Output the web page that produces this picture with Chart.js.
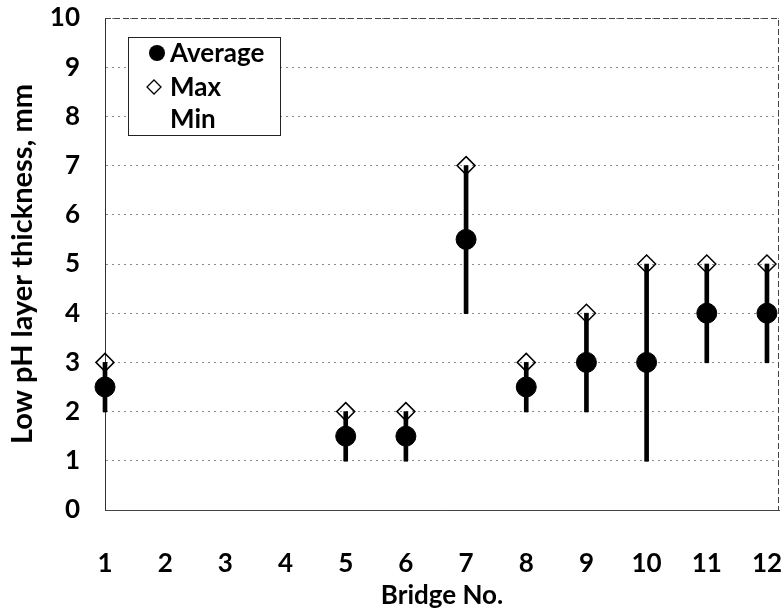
<!DOCTYPE html>
<html>
<head>
<meta charset="utf-8">
<script src="https://cdn.jsdelivr.net/npm/chart.js@4.4.1/dist/chart.umd.min.js"></script>
<style>
html,body{margin:0;padding:0;background:#fff;}
#wrap{width:783px;height:614px;}
</style>
</head>
<body>
<div id="wrap"><canvas id="c" width="783" height="614"></canvas></div>
<script>
const bridges = [1, 5, 6, 7, 8, 9, 10, 11, 12];
const avgVals = [2.5, 1.5, 1.5, 5.5, 2.5, 3, 3, 4, 4];
const maxVals = [3, 2, 2, 7, 3, 4, 5, 5, 5];
const minVals = [2, 1, 1, 4, 2, 2, 1, 3, 3];
const xTicks = [1, 2, 3, 4, 5, 6, 7, 8, 9, 10, 11, 12];
const yTicks = [0, 1, 2, 3, 4, 5, 6, 7, 8, 9, 10];
const legendLabels = ['Average', 'Max', 'Min'];

const FONT = 'Lato';
const FSIZE = 26;
const pts = (ys) => bridges.map((b, i) => ({x: b, y: ys[i]}));

const boxPlugin = {
  id: 'boxPlugin',
  beforeDatasetsDraw(chart) {
    const {ctx, chartArea: a} = chart;
    ctx.save();
    ctx.strokeStyle = '#444';
    ctx.lineWidth = 1;
    ctx.setLineDash([6, 3]);
    ctx.beginPath();
    ctx.moveTo(a.left, a.top + 0.5);
    ctx.lineTo(a.right - 0.5, a.top + 0.5);
    ctx.lineTo(a.right - 0.5, a.bottom);
    ctx.stroke();
    ctx.restore();
  },
  afterDraw(chart) {
    const {ctx, chartArea: a} = chart;
    const bx = a.left + 23, by = a.top + 19, bw = 152, bh = 98;
    ctx.save();
    ctx.fillStyle = '#fff';
    ctx.fillRect(bx, by, bw, bh);
    ctx.strokeStyle = '#222';
    ctx.lineWidth = 1;
    ctx.strokeRect(bx + 0.5, by + 0.5, bw, bh);
    ctx.font = 'bold ' + FSIZE + 'px ' + FONT;
    ctx.fillStyle = '#000';
    ctx.textBaseline = 'middle';
    const rowY = [by + 16, by + 50, by + 82];
    const mx = bx + 29;
    ctx.beginPath();
    ctx.arc(mx, rowY[0], 8, 0, Math.PI * 2);
    ctx.fill();
    ctx.beginPath();
    ctx.moveTo(mx - 3, rowY[1] - 7);
    ctx.lineTo(mx + 4, rowY[1]);
    ctx.lineTo(mx - 3, rowY[1] + 7);
    ctx.lineTo(mx - 10, rowY[1]);
    ctx.closePath();
    ctx.lineWidth = 1.3;
    ctx.strokeStyle = '#000';
    ctx.stroke();
    legendLabels.forEach((t, i) => ctx.fillText(t, bx + 42, rowY[i] + 1));
    ctx.restore();
  }
};

const noPad = (s) => { s.paddingTop = 0; s.paddingBottom = 0; s.paddingLeft = 0; s.paddingRight = 0; };

new Chart(document.getElementById('c'), {
  data: {
    datasets: [
      {
        type: 'scatter', label: 'Average', data: pts(avgVals),
        pointStyle: 'circle', pointRadius: 10, pointHoverRadius: 10,
        backgroundColor: '#000', borderColor: '#000', borderWidth: 1,
        order: 0, clip: false
      },
      {
        type: 'scatter', label: 'Max', data: pts(maxVals),
        pointStyle: 'rectRot', pointRadius: 9, pointHoverRadius: 9,
        backgroundColor: 'rgba(255,255,255,0)', borderColor: '#000', borderWidth: 1.5,
        order: 1, clip: false
      },
      {
        type: 'scatter', label: 'Min', data: pts(minVals),
        pointStyle: 'line', pointRadius: 2, pointHoverRadius: 2,
        backgroundColor: '#000', borderColor: '#000', borderWidth: 1.5,
        order: 2, clip: false
      },
      {
        type: 'bar', label: 'range',
        data: bridges.map((b, i) => ({x: b, y: [minVals[i], maxVals[i]]})),
        backgroundColor: '#000', borderWidth: 0, barThickness: 4,
        order: 3, clip: false
      }
    ]
  },
  options: {
    responsive: false,
    animation: false,
    layout: {autoPadding: false, padding: {top: 18, right: 4, bottom: 0, left: 0}},
    plugins: {
      tooltip: {enabled: false},
      legend: {display: false}
    },
    scales: {
      x: {
        type: 'linear', min: 1, max: 12.2, offset: false,
        afterBuildTicks: (s) => { s.ticks = xTicks.map(v => ({value: v})); },
        afterFit: (s) => { s.height = 104; noPad(s); },
        grid: {display: false, drawTicks: false, offset: false},
        border: {display: true, color: '#444', width: 1},
        ticks: {color: '#000', padding: 38, maxRotation: 0, font: {family: FONT, size: FSIZE, weight: 'bold'}},
        title: {display: true, text: 'Bridge No.', color: '#000', padding: {top: 0, bottom: 3},
                font: {family: FONT, size: FSIZE, weight: 'bold'}}
      },
      y: {
        type: 'linear', min: 0, max: 10,
        afterBuildTicks: (s) => { s.ticks = yTicks.map(v => ({value: v})); },
        afterFit: (s) => { s.width = 105; noPad(s); },
        grid: {color: '#8a8a8a', lineWidth: 1, drawTicks: false},
        border: {display: true, color: '#333', width: 1, dash: [2, 4]},
        ticks: {color: '#000', padding: 25, font: {family: FONT, size: FSIZE, weight: 'bold'}},
        title: {display: true, text: 'Low pH layer thickness, mm', color: '#000', padding: {top: 5, bottom: 0},
                font: {family: FONT, size: 29, weight: 'bold'}}
      }
    }
  },
  plugins: [boxPlugin]
});
</script>
</body>
</html>
